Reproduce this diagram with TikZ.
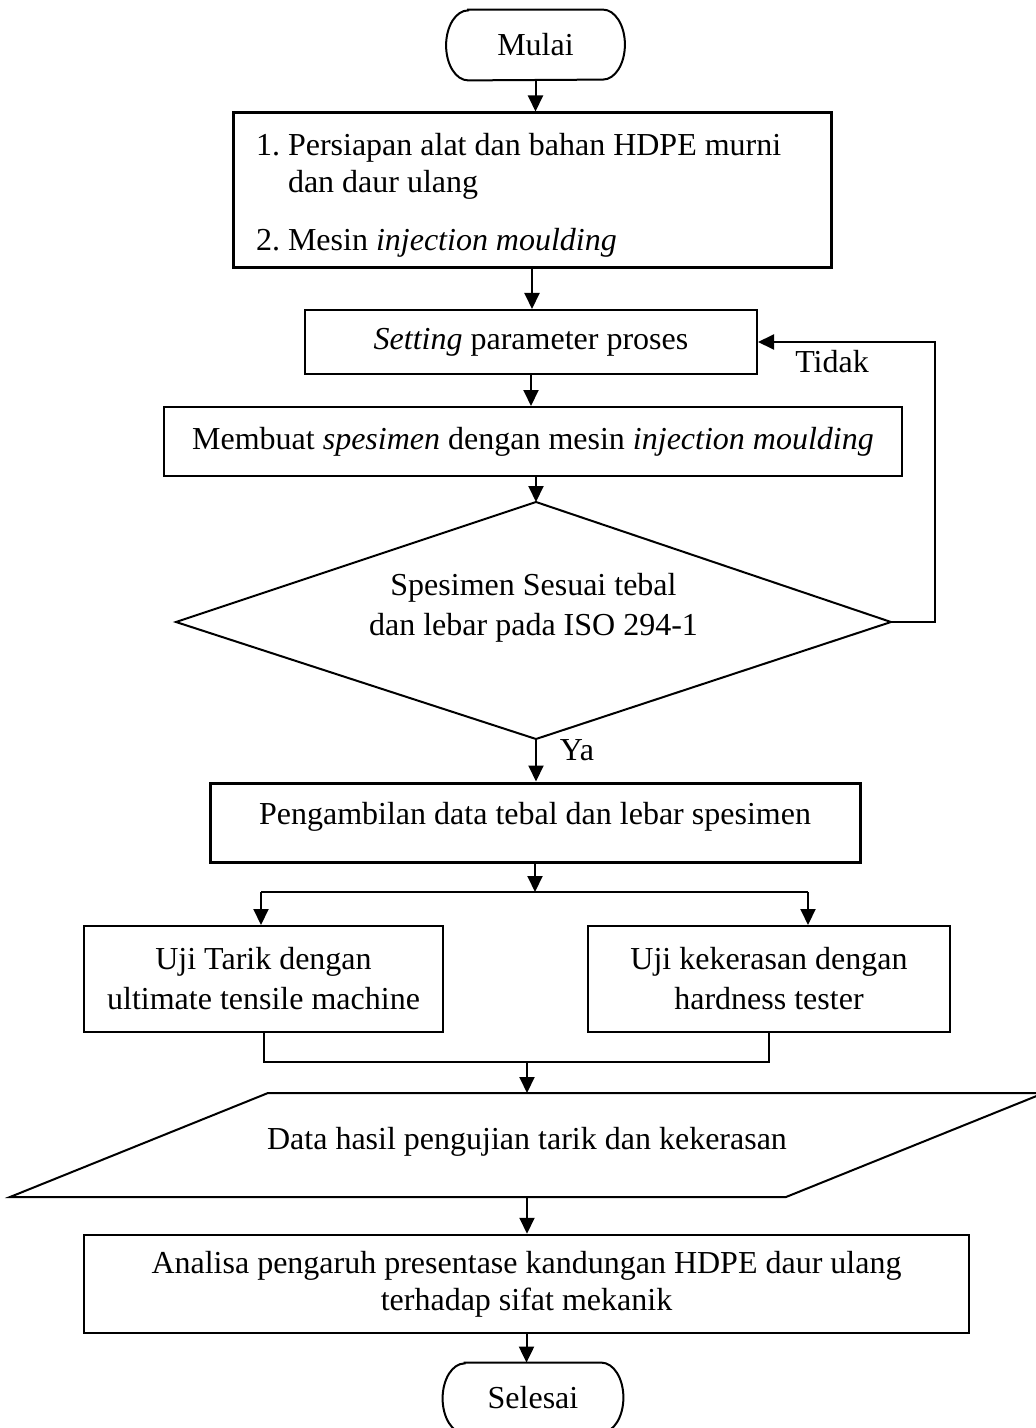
\documentclass[tikz,border=0pt]{standalone}
\usepackage{fontspec}
\setmainfont{Liberation Serif}
\usetikzlibrary{arrows.meta}
\begin{document}
\begin{tikzpicture}[x=0.5pt,y=-0.5pt,
  every node/.style={font=\fontsize{16}{18.5}\selectfont},
  ln/.style={line width=1pt},
  arr/.style={line width=1pt,-{Triangle[length=8pt,width=7.5pt]}},
  procbox/.style={draw,line width=1pt,inner sep=0pt,align=center},
  termtext/.style={inner sep=0pt,minimum width=89pt,minimum height=35pt},
  plain/.style={inner sep=0pt,align=center}]
\useasboundingbox (0,0) rectangle (1036,1428);

% start terminator
\node[termtext] (start) at (535.5,45) {Mulai};
\draw[ln] ([xshift=11pt]start.north west) -- ([xshift=-11pt]start.north east)
  arc[start angle=90,end angle=-90,x radius=11pt,y radius=17.5pt]
  -- ([xshift=11pt]start.south west)
  arc[start angle=270,end angle=90,x radius=11pt,y radius=17.5pt] -- cycle;

% box 1
\node[procbox,line width=1.5pt,align=flush left,text width=276pt,inner xsep=11.5pt,
      minimum height=77.5pt] (b1) at (532,190.5)
  {\rule{0pt}{16pt}1.~Persiapan alat dan bahan HDPE murni\\
   \phantom{1.~}dan daur ulang\\[10.5pt]
   2.~Mesin \textit{injection moulding}};

% box 2
\node[procbox,minimum width=226pt,minimum height=32pt] (b2) at (531,342)
  {\textit{Setting} parameter proses};

% box 3
\node[procbox,minimum width=369pt,minimum height=34.5pt] (b3) at (533,441.5)
  {Membuat \textit{spesimen} dengan mesin \textit{injection moulding}};

% decision
\coordinate (dt) at (536,502);
\coordinate (db) at (536,739);
\coordinate (dl) at (176,622);
\coordinate (dr) at (891,622);
\draw[ln] (dt) -- (dr) -- (db) -- (dl) -- cycle;
\node[plain] (dtext) at (533.5,608)
  {Spesimen Sesuai tebal\\[1.5pt]dan lebar pada ISO 294-1};
\node[plain] (tidak) at (832,362) {Tidak};
\node[plain] (ya) at (577,750) {Ya};

% box 4
\node[procbox,line width=1.5pt,minimum width=325pt,minimum height=39.5pt,
      text depth=9pt] (b4) at (535,822.5)
  {Pengambilan data tebal dan lebar spesimen};

% boxes 5 and 6
\node[procbox,minimum width=179.5pt,minimum height=53pt] (b5) at (263.5,979)
  {Uji Tarik dengan\\[1.5pt]ultimate tensile machine};
\node[procbox,minimum width=181pt,minimum height=53pt] (b6) at (769,979)
  {Uji kekerasan dengan\\[1.5pt]hardness tester};

% data parallelogram
\coordinate (ptl) at (268,1093);
\coordinate (ptr) at (1044,1093);
\coordinate (pbr) at (786,1197);
\coordinate (pbl) at (10,1197);
\draw[ln] (ptl) -- (ptr) -- (pbr) -- (pbl) -- cycle;
\node[plain] (ptext) at (527,1142) {Data hasil pengujian tarik dan kekerasan};
\coordinate (pin) at (527,1093);
\coordinate (pout) at (527,1197);

% box 7
\node[procbox,line width=1.25pt,minimum width=442.5pt,minimum height=49pt] (b7) at (526.5,1284)
  {Analisa pengaruh presentase kandungan HDPE daur ulang\\terhadap sifat mekanik};

% stop terminator
\node[termtext,minimum width=90pt] (stop) at (533,1398) {Selesai};
\draw[ln] ([xshift=11pt]stop.north west) -- ([xshift=-11pt]stop.north east)
  arc[start angle=90,end angle=-90,x radius=11pt,y radius=17.5pt]
  -- ([xshift=11pt]stop.south west)
  arc[start angle=270,end angle=90,x radius=11pt,y radius=17.5pt] -- cycle;

% connectors
\draw[arr] (start.south) -- (start.south |- b1.north);
\draw[arr] (b1.south) -- (b1.south |- b2.north);
\draw[arr] (b2.south) -- (b2.south |- b3.north);
\draw[arr] (b3.south -| dt) -- (dt);
\draw[arr] (dr) -- ++(44,0) |- (b2.east);
\draw[arr] (db) -- (db |- b4.north);

\coordinate (sp) at (535,892);
\coordinate (spl) at (261,892);
\coordinate (spr) at (808,892);
\draw[arr] (b4.south) -- (sp);
\draw[ln] (spl) -- (spr);
\draw[arr] (spl) -- (spl |- b5.north);
\draw[arr] (spr) -- (spr |- b6.north);

\coordinate (jn) at (527,1062);
\draw[ln] (b5.south) -- (b5.south |- jn) -- (b6.south |- jn) -- (b6.south);
\draw[arr] (jn) -- (pin);
\draw[arr] (pout) -- (pout |- b7.north);
\draw[arr] (b7.south) -- (b7.south |- stop.north);
\end{tikzpicture}
\end{document}
